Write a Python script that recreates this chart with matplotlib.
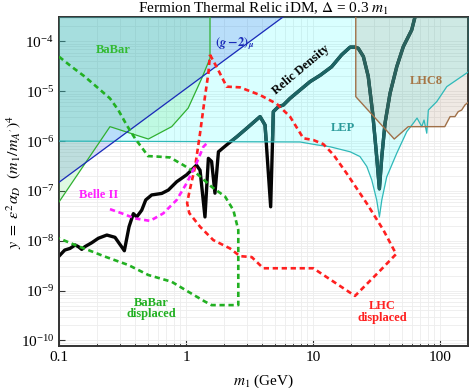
import matplotlib
matplotlib.use('Agg')
import matplotlib.pyplot as plt
from matplotlib.ticker import FixedLocator, FixedFormatter, LogLocator, NullFormatter, LogFormatterMathtext

plt.rcParams['font.family'] = ['Liberation Serif', 'DejaVu Serif']
plt.rcParams['mathtext.fontset'] = 'stix'

# Relic density target (m1 in GeV, y)
relic_m = [0.1, 0.111, 0.122, 0.134, 0.142, 0.151, 0.160, 0.181, 0.204, 0.238, 0.276, 0.327,
           0.356, 0.385, 0.409, 0.448, 0.482, 0.537, 0.644, 0.726, 0.845, 1.01, 1.21, 1.29,
           1.41, 1.50, 1.59, 1.69, 1.80, 2.09, 2.51, 3.0, 3.83, 4.19, 4.64, 4.87, 5.33, 5.84,
           6.59, 7.9, 9.47, 11.4, 14.0, 16.8, 19.6, 21.4, 22.7, 24.9, 27.2, 29.5, 31.7, 33.3,
           34.8, 36.9, 40.4, 45.6, 51.4, 59.8, 63.5]
relic_y = [4.9e-9, 6.5e-9, 7.0e-9, 8.2e-9, 7.6e-9, 6.7e-9, 7.6e-9, 9.1e-9, 1.12e-8, 1.30e-8,
           1.17e-8, 6.3e-9, 1.91e-8, 3.5e-8, 3.0e-8, 4.1e-8, 6.6e-8, 8.3e-8, 8.9e-8, 1.04e-7,
           1.53e-7, 2.1e-7, 3.3e-7, 2.6e-7, 3.0e-8, 4.5e-7, 3.9e-7, 9e-8, 6.1e-7, 8.4e-7,
           1.22e-6, 1.8e-6, 3.1e-6, 2.1e-6, 4.8e-8, 3.9e-6, 4.9e-6, 5.3e-6, 7.2e-6, 1.06e-5,
           1.56e-5, 2.1e-5, 3.1e-5, 5.4e-5, 7.7e-5, 7.7e-5, 7.3e-5, 5.0e-5, 2.0e-5, 3.6e-6,
           4.9e-7, 1.1e-7, 4.9e-7, 2.3e-6, 9.1e-6, 3.1e-5, 7.9e-5, 1.7e-4, 3.1e-4]

# BaBar exclusion boundary
babar_m = [1.545, 1.545, 1.33, 1.04, 0.771, 0.505, 0.252, 0.1]
babar_y = [1e-3, 4.6e-5, 1.82e-5, 4.6e-6, 1.95e-6, 1.1e-6, 1.95e-6, 6e-8]

# (g-2)_mu line
g2_m = [0.1, 5.8]
g2_y = [1.49e-7, 3.1e-4]

# LEP boundary
lep_m = [0.1, 7.9, 10.7, 13.6, 19.6, 23.4, 26.5, 29.0, 31.7, 33.3, 34.8, 38.0, 45.6, 54.7,
         61.7, 65.9, 71.8, 74.8, 78.6, 80.9, 94.2, 113, 169]
lep_y = [1e-6, 9.6e-7, 8.4e-7, 7.7e-7, 6.1e-7, 4.9e-7, 3.1e-7, 1.66e-7, 6.6e-8, 3.0e-8,
         6.6e-8, 1.9e-7, 5.7e-7, 1.55e-6, 2.3e-6, 2.9e-6, 1.95e-6, 2.65e-6, 1.44e-6, 4.2e-6,
         6.2e-6, 1.24e-5, 2.5e-5]

# LHC8 boundary
lhc8_m = [21.7, 21.7, 43.6, 56.2, 109, 120, 131, 139, 148, 157, 169]
lhc8_y = [1e-3, 7.8e-6, 1.1e-6, 1.95e-6, 1.95e-6, 3.1e-6, 3.1e-6, 3.9e-6, 4.2e-6, 5.3e-6, 6.2e-6]

# Belle II projection
belle_m = [0.252, 0.312, 0.397, 0.521, 0.663, 0.845, 1.01, 1.21, 1.37, 1.50]
belle_y = [4.3e-8, 3.55e-8, 2.8e-8, 2.5e-8, 3.55e-8, 6.6e-8, 1.42e-7, 3.6e-7, 7.7e-7, 9.7e-7]

# BaBar displaced projection
bbd_m = [0.1, 0.126, 0.160, 0.204, 0.252, 0.293, 0.341, 0.396, 0.475, 0.502, 0.588, 0.748,
         0.953, 1.21, 1.59, 2.03, 2.36, 2.58, 2.58, 1.59, 1.41, 1.04, 0.771, 0.505, 0.352,
         0.230, 0.170, 0.134, 0.1]
bbd_y = [4.95e-5, 3.1e-5, 1.96e-5, 1.15e-5, 7.2e-6, 4.2e-6, 2.1e-6, 1.14e-6, 6.1e-7, 5.0e-7,
         4.9e-7, 4.7e-7, 3.3e-7, 2.25e-7, 1.21e-7, 7.7e-8, 4.1e-8, 1.64e-8, 5.1e-10, 5.1e-10,
         6.0e-10, 9.5e-10, 1.5e-9, 2.05e-9, 3.25e-9, 4.8e-9, 6.5e-9, 8.2e-9, 1.12e-8]

# LHC displaced projection (closed contour)
lhcd_m = [1.545, 1.79, 2.09, 2.66, 3.83, 5.18, 6.59, 8.39, 10.05, 12.05, 14.5, 18.4, 26.5,
          35.8, 45.1, 33.7, 21.4, 10.05, 4.06, 3.29, 2.66, 2.22, 1.64, 1.29, 1.06, 1.02, 1.07,
          1.18, 1.29, 1.41, 1.50, 1.545]
lhcd_y = [5.4e-5, 2.7e-5, 1.24e-5, 1.2e-5, 8.4e-6, 5.6e-6, 3.1e-6, 1.14e-6, 1.05e-6, 8.7e-7,
          5.3e-7, 2.25e-7, 5.6e-8, 1.64e-8, 5.4e-9, 2.5e-9, 7.8e-10, 2.8e-9, 2.8e-9, 4.7e-9,
          4.9e-9, 7.0e-9, 1.03e-8, 1.91e-8, 3.6e-8, 5.7e-8, 1.04e-7, 3.1e-7, 1.44e-6, 7.8e-6,
          2.3e-5, 5.4e-5]

x_ticks = [0.1, 1, 10, 100]
x_ticklabels = ['0.1', '1', '10', '100']
y_ticks = [1e-10, 1e-9, 1e-8, 1e-7, 1e-6, 1e-5, 1e-4]

YTOP = 1e-3

fig = plt.figure(figsize=(4.69, 3.88), dpi=100)
ax = fig.add_axes([59 / 469, 42 / 388, 409 / 469, 329 / 388])
ax.set_xscale('log')
ax.set_yscale('log')
ax.set_xlim(0.1, 166)
ax.set_ylim(7.7e-11, 3.1e-4)

# shaded exclusions
lep_fill = ax.fill_between(lep_m, lep_y, YTOP, color='#00ffff', alpha=0.15, lw=0, zorder=3)
ax.fill_between(g2_m, g2_y, YTOP, color='#3c5ae6', alpha=0.2, lw=0, zorder=3)
ax.fill(babar_m + [0.1], babar_y + [YTOP], color='#5ae16e', alpha=0.2, lw=0, zorder=3)
ax.fill(lhc8_m + [169], lhc8_y + [YTOP], color='#8a5a30', alpha=0.13, lw=0, zorder=3)

# relic line: black outside, dark teal where it sits inside the LEP region
ax.plot(relic_m, relic_y, color='#050505', lw=2.4, zorder=2)
inner, = ax.plot(relic_m, relic_y, color='#21494a', lw=2.4, zorder=2.1)
inner.set_clip_path(lep_fill.get_paths()[0], lep_fill.get_transform())

ax.plot(lep_m, lep_y, color='#30b8b8', lw=0.9, zorder=4)
ax.plot(babar_m, babar_y, color='#30b030', lw=0.9, zorder=4)
ax.plot(g2_m, g2_y, color='#1a2ab8', lw=0.9, zorder=4)
ax.plot(lhc8_m, lhc8_y, color='#a07048', lw=1.0, zorder=4)

# projections
ax.plot(bbd_m, bbd_y, color='#22b022', lw=1.9, ls=(0, (2.0, 1.4)), zorder=5)
ax.plot(lhcd_m, lhcd_y, color='#ff2020', lw=1.9, ls=(0, (2.0, 1.4)), zorder=5)
ax.plot(belle_m, belle_y, color='#ff20ff', lw=1.9, ls=(0, (2.0, 1.4)), zorder=5)

# labels
bold = dict(fontweight='bold', fontsize=9, ha='center', va='center', zorder=6)
ax.text(0.268, 6.7e-5, 'BaBar', color='#33bb33', **bold)
ax.text(2.43, 9.2e-5, r'$\boldsymbol{(g-2)}_{\boldsymbol{\mu}}$', color='#1a2ab8', **bold)
ax.text(8.0, 2.7e-5, 'Relic Density', color='black', rotation=40, **bold)
ax.text(17.3, 1.8e-6, 'LEP', color='#2a9a9a', **bold)
ax.text(78.5, 1.63e-5, 'LHC8', color='#a57545', **bold)
ax.text(0.204, 8.3e-8, 'Belle II', color='#ff20ff', **bold)
ax.text(0.537, 4.4e-10, 'BaBar\ndisplaced', color='#22b022', linespacing=0.95, **bold)
ax.text(34.8, 3.75e-10, 'LHC\ndisplaced', color='#ff2020', linespacing=0.95, **bold)

# axes styling
ax.xaxis.set_major_locator(FixedLocator(x_ticks))
ax.xaxis.set_major_formatter(FixedFormatter(x_ticklabels))
ax.xaxis.set_minor_locator(LogLocator(base=10, subs=range(2, 10)))
ax.xaxis.set_minor_formatter(NullFormatter())
ax.yaxis.set_major_locator(FixedLocator(y_ticks))
ax.yaxis.set_major_formatter(LogFormatterMathtext())
ax.yaxis.set_minor_locator(LogLocator(base=10, subs=range(2, 10)))
ax.yaxis.set_minor_formatter(NullFormatter())
ax.tick_params(which='both', direction='in', labelsize=11, color='#333333')
ax.tick_params(which='major', length=4.5, width=0.8)
ax.tick_params(axis='x', which='minor', length=2.5, width=0.6)
ax.tick_params(axis='y', which='minor', length=0)
ax.grid(True, which='both', color='#ededed', lw=0.6, zorder=0)
ax.set_axisbelow(True)
for s in ax.spines.values():
    s.set_linewidth(1.4)
    s.set_color('#333333')

ax.set_title(r'Fermion Thermal Relic iDM, $\Delta$ = 0.3 $m_1$', fontsize=11, pad=2)
ax.set_xlabel(r'$m_1$ (GeV)', fontsize=11, labelpad=6)
ax.set_ylabel(r"$y\ =\ \epsilon^2\alpha_D\ \ (m_1/m_{A^{\prime}})^4$", fontsize=11.5)
ax.yaxis.set_label_coords(-0.086, 0.5)

fig.savefig('out.png', dpi=100)
